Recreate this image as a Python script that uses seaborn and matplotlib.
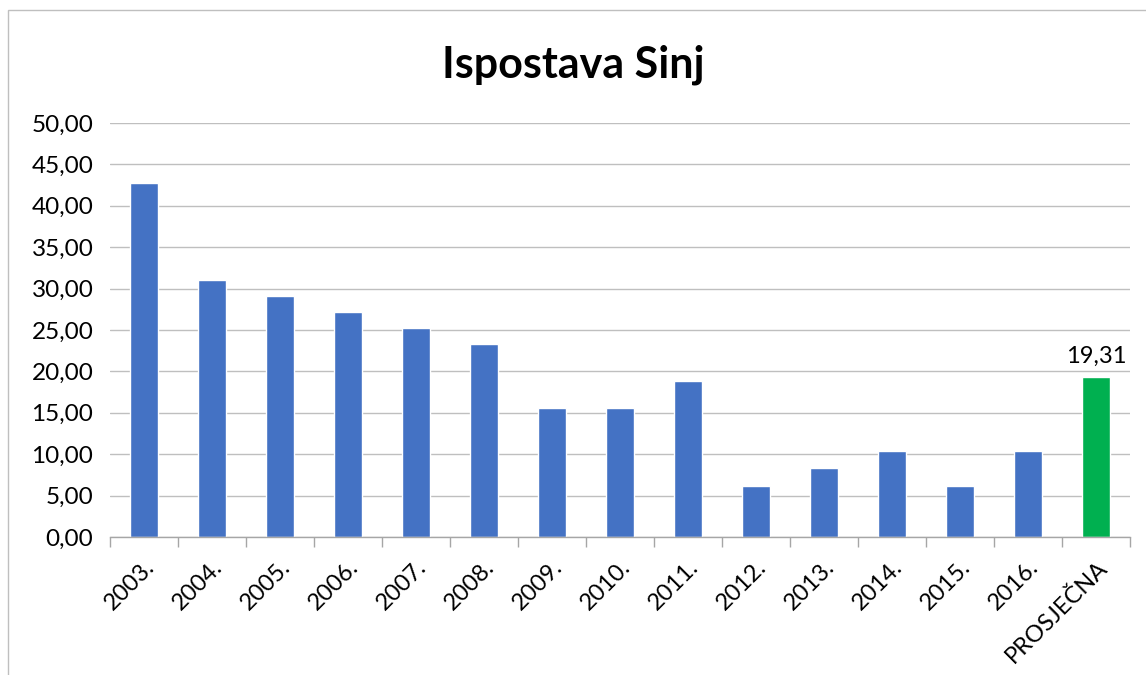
import matplotlib
matplotlib.use("Agg")
import matplotlib.pyplot as plt
import seaborn as sns
import pandas as pd
import numpy as np
from matplotlib.patches import Rectangle
from matplotlib.ticker import FuncFormatter, FixedLocator

# Data
categories = ['2003.', '2004.', '2005.', '2006.', '2007.', '2008.', '2009.',
              '2010.', '2011.', '2012.', '2013.', '2014.', '2015.', '2016.', 'PROSJEČNA']
values = [42.75, 31.05, 29.15, 27.2, 25.25, 23.3, 15.55,
          15.55, 18.8, 6.2, 8.3, 10.35, 6.2, 10.35, 19.31]
kind = ['godina'] * 14 + ['prosjek']
avg_label = '19,31'

sns.set_theme(style="white")
plt.rcParams['font.family'] = ['Lato', 'DejaVu Sans']

df = pd.DataFrame({'Godina': categories, 'Vrijednost': values, 'Vrsta': kind})

fig = plt.figure(figsize=(11.46, 6.75), dpi=100)
ax = fig.add_axes([110 / 1146, 1 - 537 / 675, 1020 / 1146, 414 / 675])

sns.barplot(data=df, x='Godina', y='Vrijednost', hue='Vrsta',
            palette={'godina': '#4472C4', 'prosjek': '#00B050'},
            width=0.4, legend=False, saturation=1, ax=ax)

ax.set_ylim(0, 50)
ax.set_xlim(-0.5, len(categories) - 0.5)
ax.set_yticks(np.arange(0, 51, 5))
ax.yaxis.set_major_formatter(FuncFormatter(lambda v, p: f"{v:.2f}".replace('.', ',')))
ax.grid(axis='y', color='#bfbfbf', linewidth=1.0)
ax.set_axisbelow(True)
for s in ['top', 'right', 'left']:
    ax.spines[s].set_visible(False)
ax.spines['bottom'].set_color('#a6a6a6')
ax.spines['bottom'].set_linewidth(1.0)

ax.tick_params(axis='y', length=8, color='#bfbfbf', labelsize=17.5, pad=4, labelcolor='black')
ax.tick_params(axis='x', which='major', length=0, labelsize=17, pad=14, labelcolor='black')
ax.xaxis.set_minor_locator(FixedLocator(np.arange(-0.5, len(categories), 1)))
ax.tick_params(axis='x', which='minor', length=7, color='#a6a6a6', width=1.0, bottom=True)
plt.setp(ax.get_xticklabels(), rotation=45, ha='right', rotation_mode='anchor')

ax.set_xlabel('')
ax.set_ylabel('')

ax.text(len(categories) - 1, values[-1] + 1.2, avg_label, ha='center', va='bottom',
        fontsize=17, color='black')

fig.suptitle('Ispostava Sinj', fontsize=31, fontweight='bold', color='black',
             y=1 - 65 / 675, va='center')

fig.patches.append(Rectangle((8 / 1146, -0.1), 1.2, 1 - 10 / 675 + 0.1,
                             transform=fig.transFigure, fill=False,
                             edgecolor='#bfbfbf', linewidth=1.0))

fig.savefig('out.png', dpi=100)
